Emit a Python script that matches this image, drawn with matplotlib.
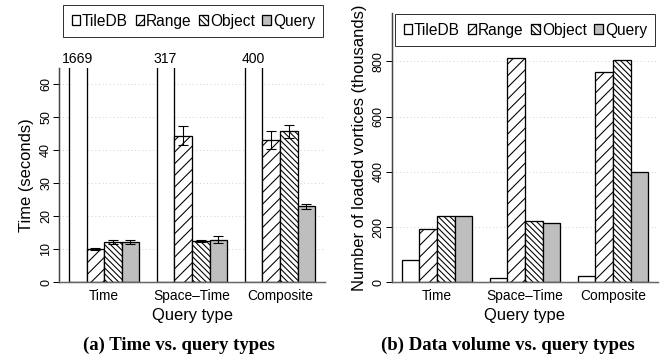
import matplotlib
matplotlib.use("Agg")
import matplotlib.pyplot as plt
import numpy as np

DPI = 140
PT = 72.0 / DPI  # points per pixel at this dpi

plt.rcParams["font.family"] = ["Liberation Sans", "DejaVu Sans"]
plt.rcParams["hatch.linewidth"] = 0.55

query_types = ["Time", "Space\u2013Time", "Composite"]
methods = ["TileDB", "Range", "Object", "Query"]

# (a) query time in seconds (TileDB bars go off the chart)
tiledb_time = [1669, 317, 400]
range_time = [10.2, 44.5, 43.2]
object_time = [12.3, 12.5, 45.8]
query_time = [12.2, 12.9, 23.0]
range_time_err = [0.3, 2.9, 2.8]
object_time_err = [0.6, 0.3, 2.0]
query_time_err = [0.7, 1.0, 0.8]

# (b) number of loaded vertices, thousands
tiledb_vert = [81, 17, 22]
range_vert = [194, 812, 762]
object_vert = [240, 223, 805]
query_vert = [239, 216, 399]

fills = ["white", "white", "white", "#bebebe"]
hatches = [None, "////", "\\" * 8, None]


def draw_panel(ax, series, errors, ymax, yticks, ylabel):
    group_left = np.arange(len(query_types)) * 5 + 1
    for i, vals in enumerate(series):
        ax.bar(group_left + i + 0.5, vals, width=1, color=fills[i],
               edgecolor="black", hatch=hatches[i], lw=1.3 * PT,
               label=methods[i], zorder=2)
        if errors[i] is not None:
            ax.errorbar(group_left + i + 0.5, vals, yerr=errors[i], fmt="none",
                        ecolor="black", elinewidth=1.1 * PT, capsize=5.5 * PT,
                        capthick=1.1 * PT, zorder=3)
    ax.set_xlim(0.44, 15.56)
    ax.set_ylim(0, ymax)
    ax.set_xticks(group_left + 2)
    ax.set_xticklabels(query_types, fontsize=13.8 * PT)
    ax.tick_params(axis="x", length=0, pad=7 * PT)
    ax.set_yticks(yticks)
    ax.set_yticklabels([str(t) for t in yticks], rotation=90, va="center",
                       fontsize=12.5 * PT)
    ax.tick_params(axis="y", length=6 * PT, width=1 * PT, pad=1 * PT)
    ax.yaxis.grid(True, linestyle=(0, (1, 3)), color="#c8c8c8", lw=0.9 * PT)
    ax.set_axisbelow(True)
    for s in ["top", "right"]:
        ax.spines[s].set_visible(False)
    ax.spines["left"].set_color("#444444")
    ax.spines["bottom"].set_color("#666666")
    ax.spines["left"].set_linewidth(1.5 * PT)
    ax.spines["bottom"].set_linewidth(1.5 * PT)
    ax.set_xlabel("Query type", fontsize=16.5 * PT, labelpad=5 * PT)
    ax.set_ylabel(ylabel, fontsize=16.5 * PT, labelpad=6 * PT)
    return group_left


def add_legend(ax, x_px, y_px):
    leg = ax.legend(loc="upper left", bbox_to_anchor=(x_px / 672, 1 - y_px / 360),
                    bbox_transform=fig.transFigure, ncol=4, fontsize=15.5 * PT,
                    handlelength=0.55, handleheight=0.55, handletextpad=0.12,
                    columnspacing=0.5, borderpad=0.55, borderaxespad=0,
                    fancybox=False, edgecolor="#333333", framealpha=1)
    leg.get_frame().set_linewidth(1 * PT)
    return leg


fig = plt.figure(figsize=(672 / DPI, 360 / DPI), dpi=DPI)

# (a) time
ax1 = fig.add_axes([59.1 / 672, 77.7 / 360, 265.9 / 672, 214.3 / 360])
g = draw_panel(ax1, [tiledb_time, range_time, object_time, query_time],
               [None, range_time_err, object_time_err, query_time_err],
               65, [0, 10, 20, 30, 40, 50, 60], "Time (seconds)")
for k, v in enumerate(tiledb_time):
    ax1.annotate(str(v), xy=(g[k] + 0.5, 1), xycoords=("data", "axes fraction"),
                 xytext=(0, 2), textcoords="offset pixels", ha="center",
                 va="bottom", fontsize=14 * PT, annotation_clip=False)
add_legend(ax1, 63, 5)

# (b) vertices
ax2 = fig.add_axes([391.8 / 672, 77.7 / 360, 266.4 / 672, 269.3 / 360])
draw_panel(ax2, [tiledb_vert, range_vert, object_vert, query_vert],
           [None, None, None, None], 975, [0, 200, 400, 600, 800],
           "Number of loaded vortices (thousands)")
add_legend(ax2, 395, 14)

fig.text(178.5 / 672, 1 - 345.7 / 360, "(a) Time vs. query types",
         ha="center", va="center", fontsize=18.8 * PT, fontweight="bold",
         family="Liberation Serif")
fig.text(507.5 / 672, 1 - 345.7 / 360, "(b) Data volume vs. query types",
         ha="center", va="center", fontsize=18.8 * PT, fontweight="bold",
         family="Liberation Serif")

fig.savefig("out.png", dpi=DPI)
